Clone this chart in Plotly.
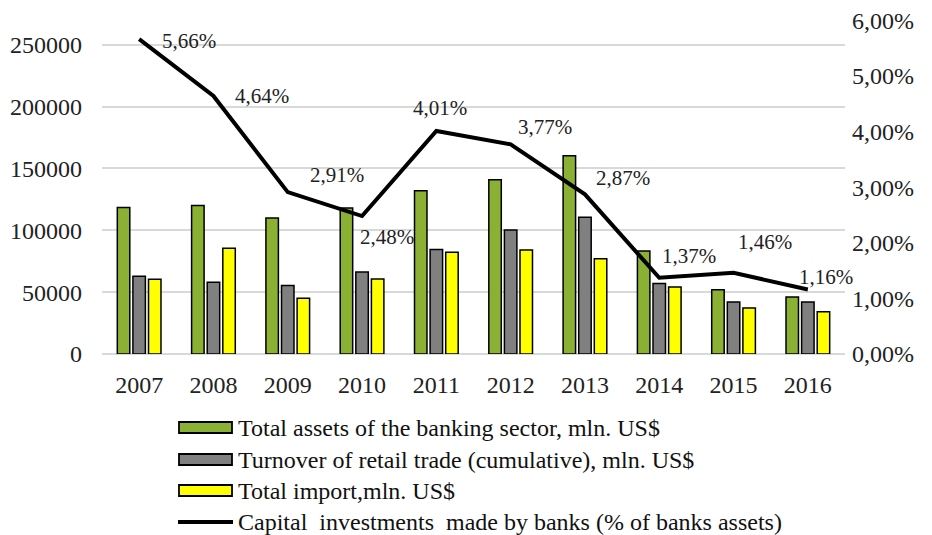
import plotly.graph_objects as go

years = ["2007", "2008", "2009", "2010", "2011", "2012", "2013", "2014", "2015", "2016"]
total_assets = [118400, 120000, 110000, 118100, 131900, 140800, 160200, 83300, 52000, 46100]
retail_turnover = [62900, 58000, 55300, 66300, 84400, 100300, 110600, 56900, 42100, 42100]
total_import = [60400, 85500, 45000, 60700, 82300, 84100, 76900, 54200, 37200, 34200]
capital_inv = [0.0566, 0.0464, 0.0291, 0.0248, 0.0401, 0.0377, 0.0287, 0.0137, 0.0146, 0.0116]
cap_labels = ["5,66%", "4,64%", "2,91%", "2,48%", "4,01%", "3,77%", "2,87%", "1,37%", "1,46%", "1,16%"]
pct_ticks = [0.0, 0.01, 0.02, 0.03, 0.04, 0.05, 0.06]
series_names = [
    "Total assets of the banking sector, mln. US$",
    "Turnover of retail trade (cumulative), mln. US$",
    "Total import,mln. US$",
    "Capital  investments  made by banks (% of banks assets)",
]
bar_colors = ["#8AB034", "#808080", "#FFFF00"]

# label offsets (px) relative to each line point
label_dx = [50, 49, 49, 25, 4, 34, 38, 30, 31, 18]
label_dy = [-2, 0, 17, -21, 23, 17, 16, 22, 31, 12]

FONT = "Liberation Serif, Times New Roman, serif"
TICK_FS = 24
LEG_FS = 24
LBL_FS = 21

fig = go.Figure()
for vals, name, col in zip([total_assets, retail_turnover, total_import], series_names[:3], bar_colors):
    fig.add_trace(go.Bar(x=years, y=vals, name=name, showlegend=False,
                         marker=dict(color=col, line=dict(color="black", width=1.5))))
fig.add_trace(go.Scatter(x=years, y=capital_inv, name=series_names[3], showlegend=False,
                         mode="lines", line=dict(color="black", width=4), yaxis="y2"))

for i, (v, t) in enumerate(zip(capital_inv, cap_labels)):
    fig.add_annotation(x=i, y=v, xref="x", yref="y2", text=t, showarrow=False,
                       xshift=label_dx[i], yshift=label_dy[i],
                       font=dict(family=FONT, size=LBL_FS, color="#222"))

# custom legend (plot area in page pixels: x 102..845, y 20..354)
def px_x(p):
    return (p - 102) / 743.0

def px_y(p):
    return (354 - p) / 334.0

leg_rows = [428, 460, 491, 522]
for k in range(3):
    yc = leg_rows[k] - 0.5
    fig.add_shape(type="rect", xref="paper", yref="paper",
                  x0=px_x(179), x1=px_x(232), y0=px_y(yc - 5.5), y1=px_y(yc + 5.5),
                  fillcolor=bar_colors[k], line=dict(color="black", width=1.8))
fig.add_shape(type="line", xref="paper", yref="paper",
              x0=px_x(178), x1=px_x(233), y0=px_y(leg_rows[3]), y1=px_y(leg_rows[3]),
              line=dict(color="black", width=4))
for k in range(4):
    fig.add_annotation(xref="paper", yref="paper", x=px_x(236), y=px_y(leg_rows[k]),
                       xanchor="left", yanchor="middle", text=series_names[k], showarrow=False,
                       font=dict(family=FONT, size=LEG_FS, color="#111"))

# page body has an 8px margin, so the figure is 8px smaller and margins shifted
fig.update_layout(
    width=924, height=527,
    margin=dict(l=94, r=87, t=12, b=181, autoexpand=False),
    plot_bgcolor="white", paper_bgcolor="white",
    separators=",.",
    font=dict(family=FONT, size=TICK_FS, color="#222"),
    barmode="group", bargap=0.37, bargroupgap=0.2,
    showlegend=False,
    xaxis=dict(type="category", range=[-0.5, 9.5], showgrid=False, showline=False, ticks="",
               ticklabelstandoff=14, tickfont=dict(family=FONT, size=TICK_FS)),
    yaxis=dict(range=[0, 270000], dtick=50000, tickformat="d", showgrid=True,
               gridcolor="#d9d9d9", gridwidth=1.5, zeroline=True, zerolinecolor="#d9d9d9",
               zerolinewidth=1.5, showline=False, ticks="", ticklabelstandoff=19,
               tickfont=dict(family=FONT, size=TICK_FS)),
    yaxis2=dict(range=[0, 0.06005], tickmode="array", tickvals=pct_ticks, tickformat=".2%",
                overlaying="y", side="right", ticklabeloverflow="allow",
                showgrid=False, zeroline=False, showline=False, ticks="",
                ticklabelstandoff=6, tickfont=dict(family=FONT, size=TICK_FS)),
)

fig.write_html("out.html")
